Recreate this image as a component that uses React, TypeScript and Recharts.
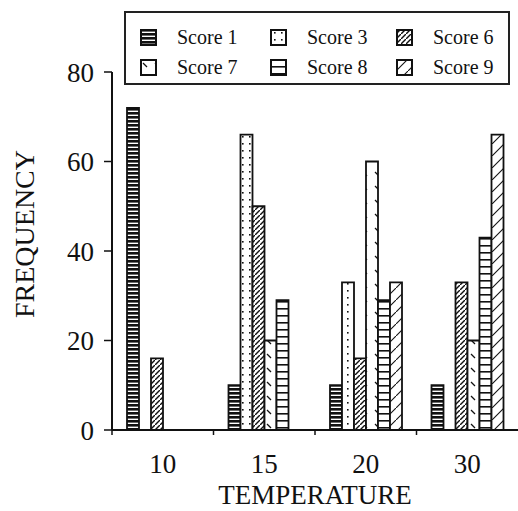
import React from 'react'
import { BarChart, Bar, XAxis, YAxis, Legend, Label } from 'recharts'

// temperatures on the x axis
const temperatures = ['10', '15', '20', '30']
// frequency per score at each temperature
const score1 = [72, 10, 10, 10]
const score3 = [0, 66, 33, 0]
const score6 = [16, 50, 16, 33]
const score7 = [0, 20, 60, 20]
const score8 = [0, 29, 29, 43]
const score9 = [0, 0, 33, 66]
const yTicks = [0, 20, 40, 60, 80]

const seriesKeys = ['s1', 's3', 's6', 's7', 's8', 's9']
const seriesNames = ['Score 1', 'Score 3', 'Score 6', 'Score 7', 'Score 8', 'Score 9']
const seriesValues = [score1, score3, score6, score7, score8, score9]

const data = temperatures.map((t, i) => {
  const row: Record<string, string | number> = { temp: t }
  seriesKeys.forEach((k, j) => { row[k] = seriesValues[j][i] })
  return row
})

const FONT = '"Liberation Serif", "Times New Roman", serif'

function Patterns() {
  return (
    <svg width={0} height={0} style={{ position: 'absolute' }}>
      <defs>
        {/* Score 1: dense horizontal stripes */}
        <pattern id="pat-s1" patternUnits="userSpaceOnUse" width={4} height={4}>
          <rect width={4} height={4} fill="#fff" />
          <rect width={4} height={2.6} fill="#111" />
        </pattern>
        {/* Score 3: dotted */}
        <pattern id="pat-s3" patternUnits="userSpaceOnUse" width={7} height={7}>
          <rect width={7} height={7} fill="#fff" />
          <rect x={4} y={3} width={1.6} height={1.6} fill="#111" />
        </pattern>
        {/* Score 6: dense forward diagonals */}
        <pattern id="pat-s6" patternUnits="userSpaceOnUse" width={5} height={5}>
          <rect width={5} height={5} fill="#fff" />
          <path d="M-1,6 L6,-1" stroke="#111" strokeWidth={1.4} />
        </pattern>
        {/* Score 7: sparse back ticks */}
        <pattern id="pat-s7" patternUnits="userSpaceOnUse" width={12} height={14}>
          <rect width={12} height={14} fill="#fff" />
          <path d="M3,4 L7,8" stroke="#111" strokeWidth={1.3} />
        </pattern>
        {/* Score 8: ladder rungs */}
        <pattern id="pat-s8" patternUnits="userSpaceOnUse" width={12} height={7}>
          <rect width={12} height={7} fill="#fff" />
          <rect y={0} width={12} height={1.6} fill="#111" />
        </pattern>
        {/* Score 9: sparse forward diagonals */}
        <pattern id="pat-s9" patternUnits="userSpaceOnUse" width={12} height={12}>
          <rect width={12} height={12} fill="#fff" />
          <path d="M-1,13 L13,-1" stroke="#111" strokeWidth={1.1} />
        </pattern>
      </defs>
    </svg>
  )
}

function renderLegend(props: any) {
  const items = props.payload || []
  return (
    <div
      style={{
        border: '2px solid #222',
        boxSizing: 'border-box',
        width: 386,
        height: 74,
        display: 'grid',
        gridTemplateColumns: '130px 126px 126px',
        gridTemplateRows: '30px 30px',
        padding: '9px 0 0 14px',
        fontFamily: FONT,
        fontSize: 20,
        color: '#111',
      }}
    >
      {items.map((it: any) => (
        <div key={it.dataKey} style={{ display: 'flex', alignItems: 'center' }}>
          <svg width={17} height={17} style={{ marginRight: 20 }}>
            <rect x={1} y={1} width={15} height={15} fill={`url(#pat-${it.dataKey})`} stroke="#111" strokeWidth={2} />
          </svg>
          <span>{it.value}</span>
        </div>
      ))}
    </div>
  )
}

function TempTick(props: any) {
  const { x, y, payload } = props
  const half = payload.offset || 0
  return (
    <g>
      <line x1={x - half} x2={x - half} y1={y} y2={y + 5} stroke="#111" strokeWidth={1.5} />
      <text x={x} y={y + 43} textAnchor="middle" fontFamily={FONT} fontSize={27} fill="#111">
        {payload.value}
      </text>
    </g>
  )
}

export default function App() {
  return (
    <div style={{ position: 'absolute', left: 0, top: 0, width: 518, height: 511, background: '#fff' }}>
      <Patterns />
      <BarChart
        width={518}
        height={511}
        data={data}
        margin={{ top: 72, right: 0, left: 0, bottom: 0 }}
        barSize={12}
        barGap={0}
      >
        <XAxis
          dataKey="temp"
          height={81}
          tickSize={0}
          tickMargin={0}
          tickLine={false}
          axisLine={{ stroke: '#111', strokeWidth: 2 }}
          tick={<TempTick />}
        >
          <Label value="TEMPERATURE" position="center" dy={24} style={{ fontFamily: FONT, fontSize: 27, fill: '#111' }} />
        </XAxis>
        <YAxis
          width={112}
          domain={[0, 80]}
          ticks={yTicks}
          tickSize={8}
          tickMargin={10}
          axisLine={{ stroke: '#111', strokeWidth: 2 }}
          tickLine={{ stroke: '#111', strokeWidth: 1.5 }}
          tick={{ fontFamily: FONT, fontSize: 27, fill: '#111' }}
        >
          <Label value="FREQUENCY" position="center" angle={-90} dx={-32} dy={-17} style={{ fontFamily: FONT, fontSize: 28, fill: '#111' }} />
        </YAxis>
        <Legend
          layout="vertical"
          align="center"
          verticalAlign="middle"
          content={renderLegend}
          wrapperStyle={{ left: 124, top: 11, width: 386, height: 74 }}
        />
        {seriesKeys.map((k, j) => (
          <Bar
            key={k}
            dataKey={k}
            name={seriesNames[j]}
            fill={`url(#pat-${k})`}
            stroke="#111"
            strokeWidth={1.8}
            isAnimationActive={false}
          />
        ))}
      </BarChart>
    </div>
  )
}
